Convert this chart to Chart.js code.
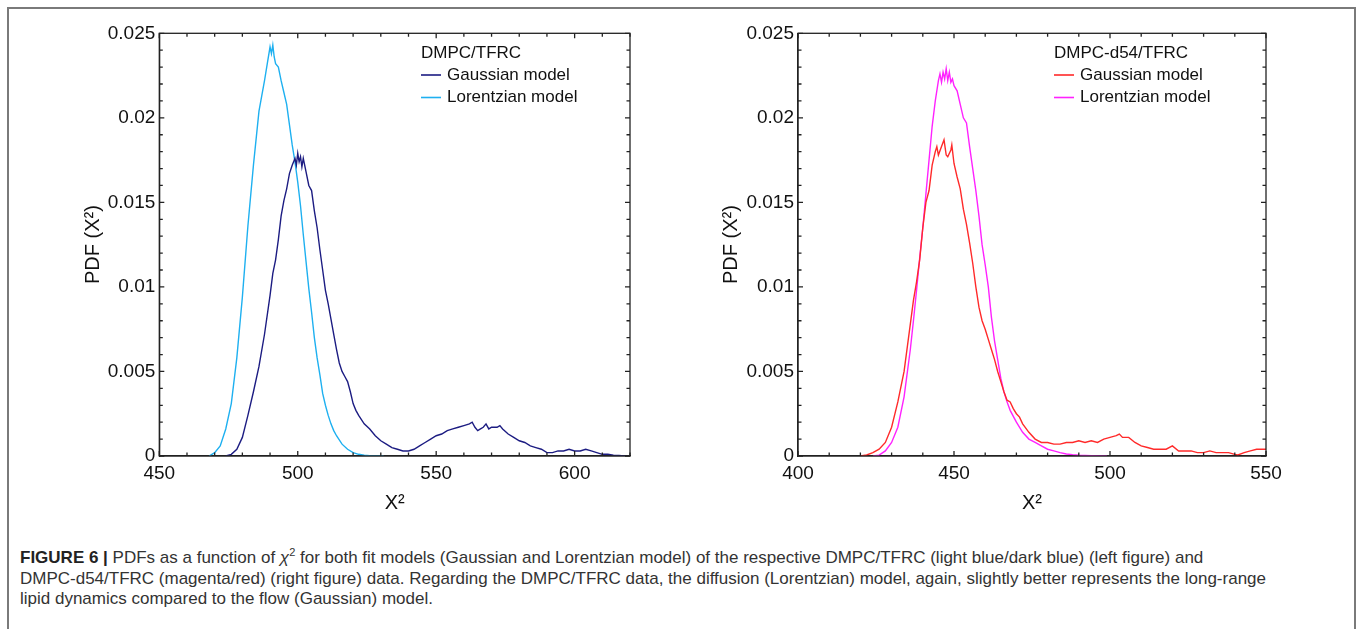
<!DOCTYPE html>
<html><head><meta charset="utf-8">
<script src="https://cdn.jsdelivr.net/npm/chart.js@4.4.0/dist/chart.umd.min.js"></script>
<style>
html,body{margin:0;padding:0;background:#fff;width:1357px;height:629px;overflow:hidden;}
#frame{position:absolute;left:7px;top:7px;width:1349px;height:660px;border:2px solid #7a7a7a;border-bottom:none;box-sizing:border-box;}
canvas{position:absolute;top:0;}
#c1{left:0px;}
#c2{left:640px;}
#caption{position:absolute;left:20px;top:548px;font-family:"Liberation Sans",Arial,sans-serif;font-size:17px;color:#333;line-height:20.5px;white-space:nowrap;}
#caption b{color:#222;}
#caption sup{font-size:11px;line-height:0;}
</style></head><body>
<div id="frame"></div>
<canvas id="c1" width="680" height="530"></canvas>
<canvas id="c2" width="680" height="530"></canvas>
<div id="caption">
<div><b>FIGURE 6 |</b> PDFs as a function of <i>χ</i><sup>2</sup> for both fit models (Gaussian and Lorentzian model) of the respective DMPC/TFRC (light blue/dark blue) (left figure) and</div>
<div>DMPC-d54/TFRC (magenta/red) (right figure) data. Regarding the DMPC/TFRC data, the diffusion (Lorentzian) model, again, slightly better represents the long-range</div>
<div>lipid dynamics compared to the flow (Gaussian) model.</div>
</div>
<script>
// ---------- data ----------
const yTicks = [0, 0.005, 0.01, 0.015, 0.02, 0.025];
const yTickLabels = ['0', '0.005', '0.01', '0.015', '0.02', '0.025'];
const leftXTicks = [450, 500, 550, 600];
const rightXTicks = [400, 450, 500, 550];

// Left: DMPC/TFRC
const leftLorX = [468,470,472,474,476,478,480,482,484,486,487,488,489,490,490.5,491,491.5,492,493,494,495,496,497,498,499,500,501,502,503,504,505,506,507,508,509,510,511,512,513,514,516,518,520,522,524,526,528,531];
const leftLorY = [0,0.0002,0.0006,0.0016,0.0031,0.0058,0.0094,0.0136,0.0172,0.0204,0.0213,0.0222,0.0232,0.0242,0.0238,0.0243,0.0236,0.0232,0.0230,0.0222,0.0215,0.0208,0.0196,0.0184,0.0174,0.0162,0.0148,0.0131,0.0115,0.0099,0.0085,0.0070,0.0058,0.0048,0.0037,0.0030,0.0024,0.0019,0.0015,0.0012,0.0007,0.0004,0.0002,0.0001,0.00005,0.00002,0,0];

const leftGauX = [474,476,478,480,482,484,486,488,490,491,492,493,494,495,496,497,498,499,499.5,500,500.5,501,501.5,502,503,504,505,506,507,508,509,510,511,512,513,514,515,516,517,518,519,520,521,522,524,526,528,530,532,534,536,538,540,542,544,546,548,550,552,554,556,558,560,562,563,564,565,566,567,568,569,570,572,573,574,576,578,580,582,584,586,588,590,592,594,596,598,600,602,604,606,608,610,612,614,616,618,620];
const leftGauY = [0,0.0001,0.0004,0.0011,0.0024,0.0038,0.0053,0.0072,0.0095,0.0108,0.0116,0.0128,0.0142,0.0151,0.0158,0.0167,0.0172,0.0176,0.0172,0.0179,0.0174,0.0177,0.0171,0.0176,0.0168,0.0160,0.0157,0.0145,0.0135,0.0122,0.0110,0.0098,0.0090,0.0081,0.0072,0.0063,0.0055,0.0050,0.0047,0.0044,0.0038,0.0031,0.0027,0.0024,0.0019,0.0016,0.0012,0.0009,0.0007,0.0005,0.0004,0.0003,0.0003,0.0004,0.0006,0.0008,0.0010,0.0012,0.0013,0.0015,0.0016,0.0017,0.0018,0.0019,0.0020,0.0017,0.0015,0.0016,0.0017,0.0019,0.0016,0.0017,0.0017,0.0018,0.0016,0.0013,0.0011,0.0009,0.0008,0.0006,0.0005,0.0004,0.0002,0.0002,0.0003,0.0003,0.0004,0.0003,0.0003,0.0004,0.0003,0.0002,0.0001,0.0001,0.00005,0.00003,0,0];

// Right: DMPC-d54/TFRC
const rightLorX = [424,426,428,430,432,434,436,437,438,439,440,441,442,443,444,445,445.5,446,446.5,447,447.5,448,448.5,449,449.5,450,451,452,453,454,455,456,457,458,459,460,461,462,463,464,465,466,467,468,470,472,474,476,478,480,482,484,486,488,490,494,499];
const rightLorY = [0,0.00005,0.0003,0.0008,0.0017,0.0035,0.0063,0.0080,0.0098,0.0117,0.0135,0.0155,0.0175,0.0195,0.0210,0.0222,0.0226,0.0221,0.0227,0.0223,0.0229,0.0222,0.0227,0.0221,0.0223,0.0219,0.0216,0.0208,0.0200,0.0197,0.0183,0.0170,0.0157,0.0142,0.0125,0.0113,0.0100,0.0082,0.0068,0.0057,0.0046,0.0038,0.0032,0.0027,0.0020,0.0014,0.0010,0.0008,0.0006,0.0004,0.0003,0.0002,0.00012,0.00008,0.00005,0.00002,0];

const rightGauX = [420,422,424,426,428,430,432,434,436,437,438,439,440,441,442,443,444,444.5,445,446,446.8,447.5,448,449,449.3,450,451,452,453,454,455,456,457,458,459,460,461,462,463,464,465,466,467,468,469,470,471,472,474,476,478,480,482,484,486,488,490,492,494,496,498,500,502,503,504,506,508,510,512,514,516,518,520,522,524,526,528,530,532,534,536,538,540,541,543,545,547,550];
const rightGauY = [0,0.00006,0.0002,0.0004,0.0008,0.0017,0.0032,0.0050,0.0078,0.0092,0.0103,0.0116,0.0135,0.0150,0.0157,0.0172,0.0180,0.0183,0.0178,0.0183,0.0187,0.0178,0.0177,0.0181,0.0184,0.0173,0.0165,0.0158,0.0146,0.0137,0.0126,0.0114,0.0100,0.0088,0.0080,0.0075,0.0069,0.0063,0.0057,0.0050,0.0044,0.0038,0.0033,0.0032,0.0028,0.0025,0.0023,0.0019,0.0014,0.0010,0.0008,0.0008,0.0007,0.0007,0.0008,0.0008,0.0009,0.0008,0.0009,0.0008,0.0010,0.0011,0.0012,0.0013,0.0011,0.0011,0.0008,0.0006,0.0005,0.0004,0.0004,0.0004,0.0006,0.0003,0.0003,0.0003,0.0002,0.0002,0.0003,0.0002,0.0002,0.0002,0.0001,0.00006,0.0002,0.0003,0.0004,0.0004];

// ---------- rendering ----------
Chart.defaults.font.family = '"Liberation Sans", Arial, Helvetica, sans-serif';
Chart.defaults.color = '#111';

function pts(xs, ys){ return xs.map((x,i)=>({x:x, y:ys[i]})); }

const frameTicks = {
  id: 'frameTicks',
  afterDatasetsDraw(chart, args, o){
    const {ctx, chartArea:a, scales:{x, y}} = chart;
    ctx.save();
    ctx.strokeStyle = '#222';
    ctx.lineWidth = 1.3;
    ctx.strokeRect(a.left, a.top, a.right - a.left, a.bottom - a.top);
    ctx.beginPath();
    for (let v = x.min; v <= x.max + 1e-9; v += o.xMinor) {
      const px = x.getPixelForValue(v);
      const major = Math.abs(((v - o.xMajorBase) / o.xMajor) - Math.round((v - o.xMajorBase) / o.xMajor)) < 1e-6;
      const L = major ? 5 : 3.5;
      ctx.moveTo(px, a.bottom); ctx.lineTo(px, a.bottom - L);
      ctx.moveTo(px, a.top); ctx.lineTo(px, a.top + L);
    }
    for (let i = 0; i <= 25; i++) {
      const v = i * 0.001;
      const py = y.getPixelForValue(v);
      const L = (i % 5 === 0) ? 5 : 3.5;
      ctx.moveTo(a.left, py); ctx.lineTo(a.left + L, py);
      ctx.moveTo(a.right, py); ctx.lineTo(a.right - L, py);
    }
    ctx.stroke();
    ctx.restore();
  }
};

const boxLegend = {
  id: 'boxLegend',
  afterDraw(chart, args, o){
    const {ctx, chartArea:a} = chart;
    const x0 = a.right - o.fromRight;
    ctx.save();
    ctx.font = '17px "Liberation Sans", Arial, sans-serif';
    ctx.fillStyle = '#111';
    ctx.textBaseline = 'middle';
    ctx.fillText(o.title, x0, o.titleY);
    chart.data.datasets.forEach((ds, i) => {
      const yy = o.firstY + i * o.gap;
      ctx.strokeStyle = ds.borderColor;
      ctx.lineWidth = 1.6;
      ctx.beginPath(); ctx.moveTo(x0, yy); ctx.lineTo(x0 + 20, yy); ctx.stroke();
      ctx.fillStyle = '#111';
      ctx.fillText(ds.label, x0 + 26, yy);
    });
    ctx.restore();
  }
};

function makeChart(id, cfg){
  return new Chart(document.getElementById(id), {
    type: 'line',
    data: { datasets: cfg.datasets },
    options: {
      responsive: false, animation: false, devicePixelRatio: 1,
      layout: { padding: { left: 0, right: cfg.padRight, top: 33.3, bottom: 0 } },
      elements: { point: { radius: 0 }, line: { tension: 0, borderWidth: 1.4 } },
      plugins: {
        legend: { display: false }, tooltip: { enabled: false },
        frameTicks: cfg.ticks,
        boxLegend: cfg.legend
      },
      scales: {
        x: {
          type: 'linear', min: cfg.xMin, max: cfg.xMax,
          afterFit: s => { s.height = 74; },
          afterBuildTicks: s => { s.ticks = cfg.xTicks.map(v => ({value: v})); },
          grid: { display: false, drawTicks: false },
          border: { display: true, color: '#222', width: 1.3 },
          ticks: { padding: 6, font: { size: 19 }, color: '#111', maxRotation: 0, autoSkip: false,
                   callback: v => String(v) },
          title: { display: true, text: 'Χ²', font: { size: 20 }, color: '#111', padding: { top: 0, bottom: 15 } }
        },
        y: {
          type: 'linear', min: 0, max: 0.025,
          afterFit: s => { s.width = cfg.yWidth; },
          afterBuildTicks: s => { s.ticks = yTicks.map(v => ({value: v})); },
          grid: { display: false, drawTicks: false },
          border: { display: true, color: '#222', width: 1.3 },
          ticks: { padding: 4, font: { size: 19 }, color: '#111', autoSkip: false,
                   callback: (v) => { const k = yTicks.findIndex(t => Math.abs(t - v) < 1e-9); return k >= 0 ? yTickLabels[k] : ''; } },
          title: { display: true, text: 'PDF (Χ²)', font: { size: 20 }, color: '#111', padding: { top: cfg.yTitlePad, bottom: 0 } }
        }
      }
    },
    plugins: [frameTicks, boxLegend]
  });
}

makeChart('c1', {
  xMin: 450, xMax: 620, xTicks: leftXTicks, padRight: 50, yWidth: 159.3, yTitlePad: 81,
  ticks: { xMinor: 10, xMajor: 50, xMajorBase: 450 },
  legend: { title: 'DMPC/TFRC', fromRight: 209, titleY: 53, firstY: 75, gap: 22.5 },
  datasets: [
    { label: 'Gaussian model', data: pts(leftGauX, leftGauY), borderColor: '#1c1c82', borderWidth: 1.4 },
    { label: 'Lorentzian model', data: pts(leftLorX, leftLorY), borderColor: '#1eb0f0', borderWidth: 1.4 }
  ]
});

makeChart('c2', {
  xMin: 400, xMax: 550, xTicks: rightXTicks, padRight: 54, yWidth: 158, yTitlePad: 79,
  ticks: { xMinor: 10, xMajor: 50, xMajorBase: 400 },
  legend: { title: 'DMPC-d54/TFRC', fromRight: 212, titleY: 53, firstY: 75, gap: 22.5 },
  datasets: [
    { label: 'Gaussian model', data: pts(rightGauX, rightGauY), borderColor: '#ff2a2a', borderWidth: 1.4 },
    { label: 'Lorentzian model', data: pts(rightLorX, rightLorY), borderColor: '#ff22ff', borderWidth: 1.4 }
  ]
});
</script>
</body></html>
